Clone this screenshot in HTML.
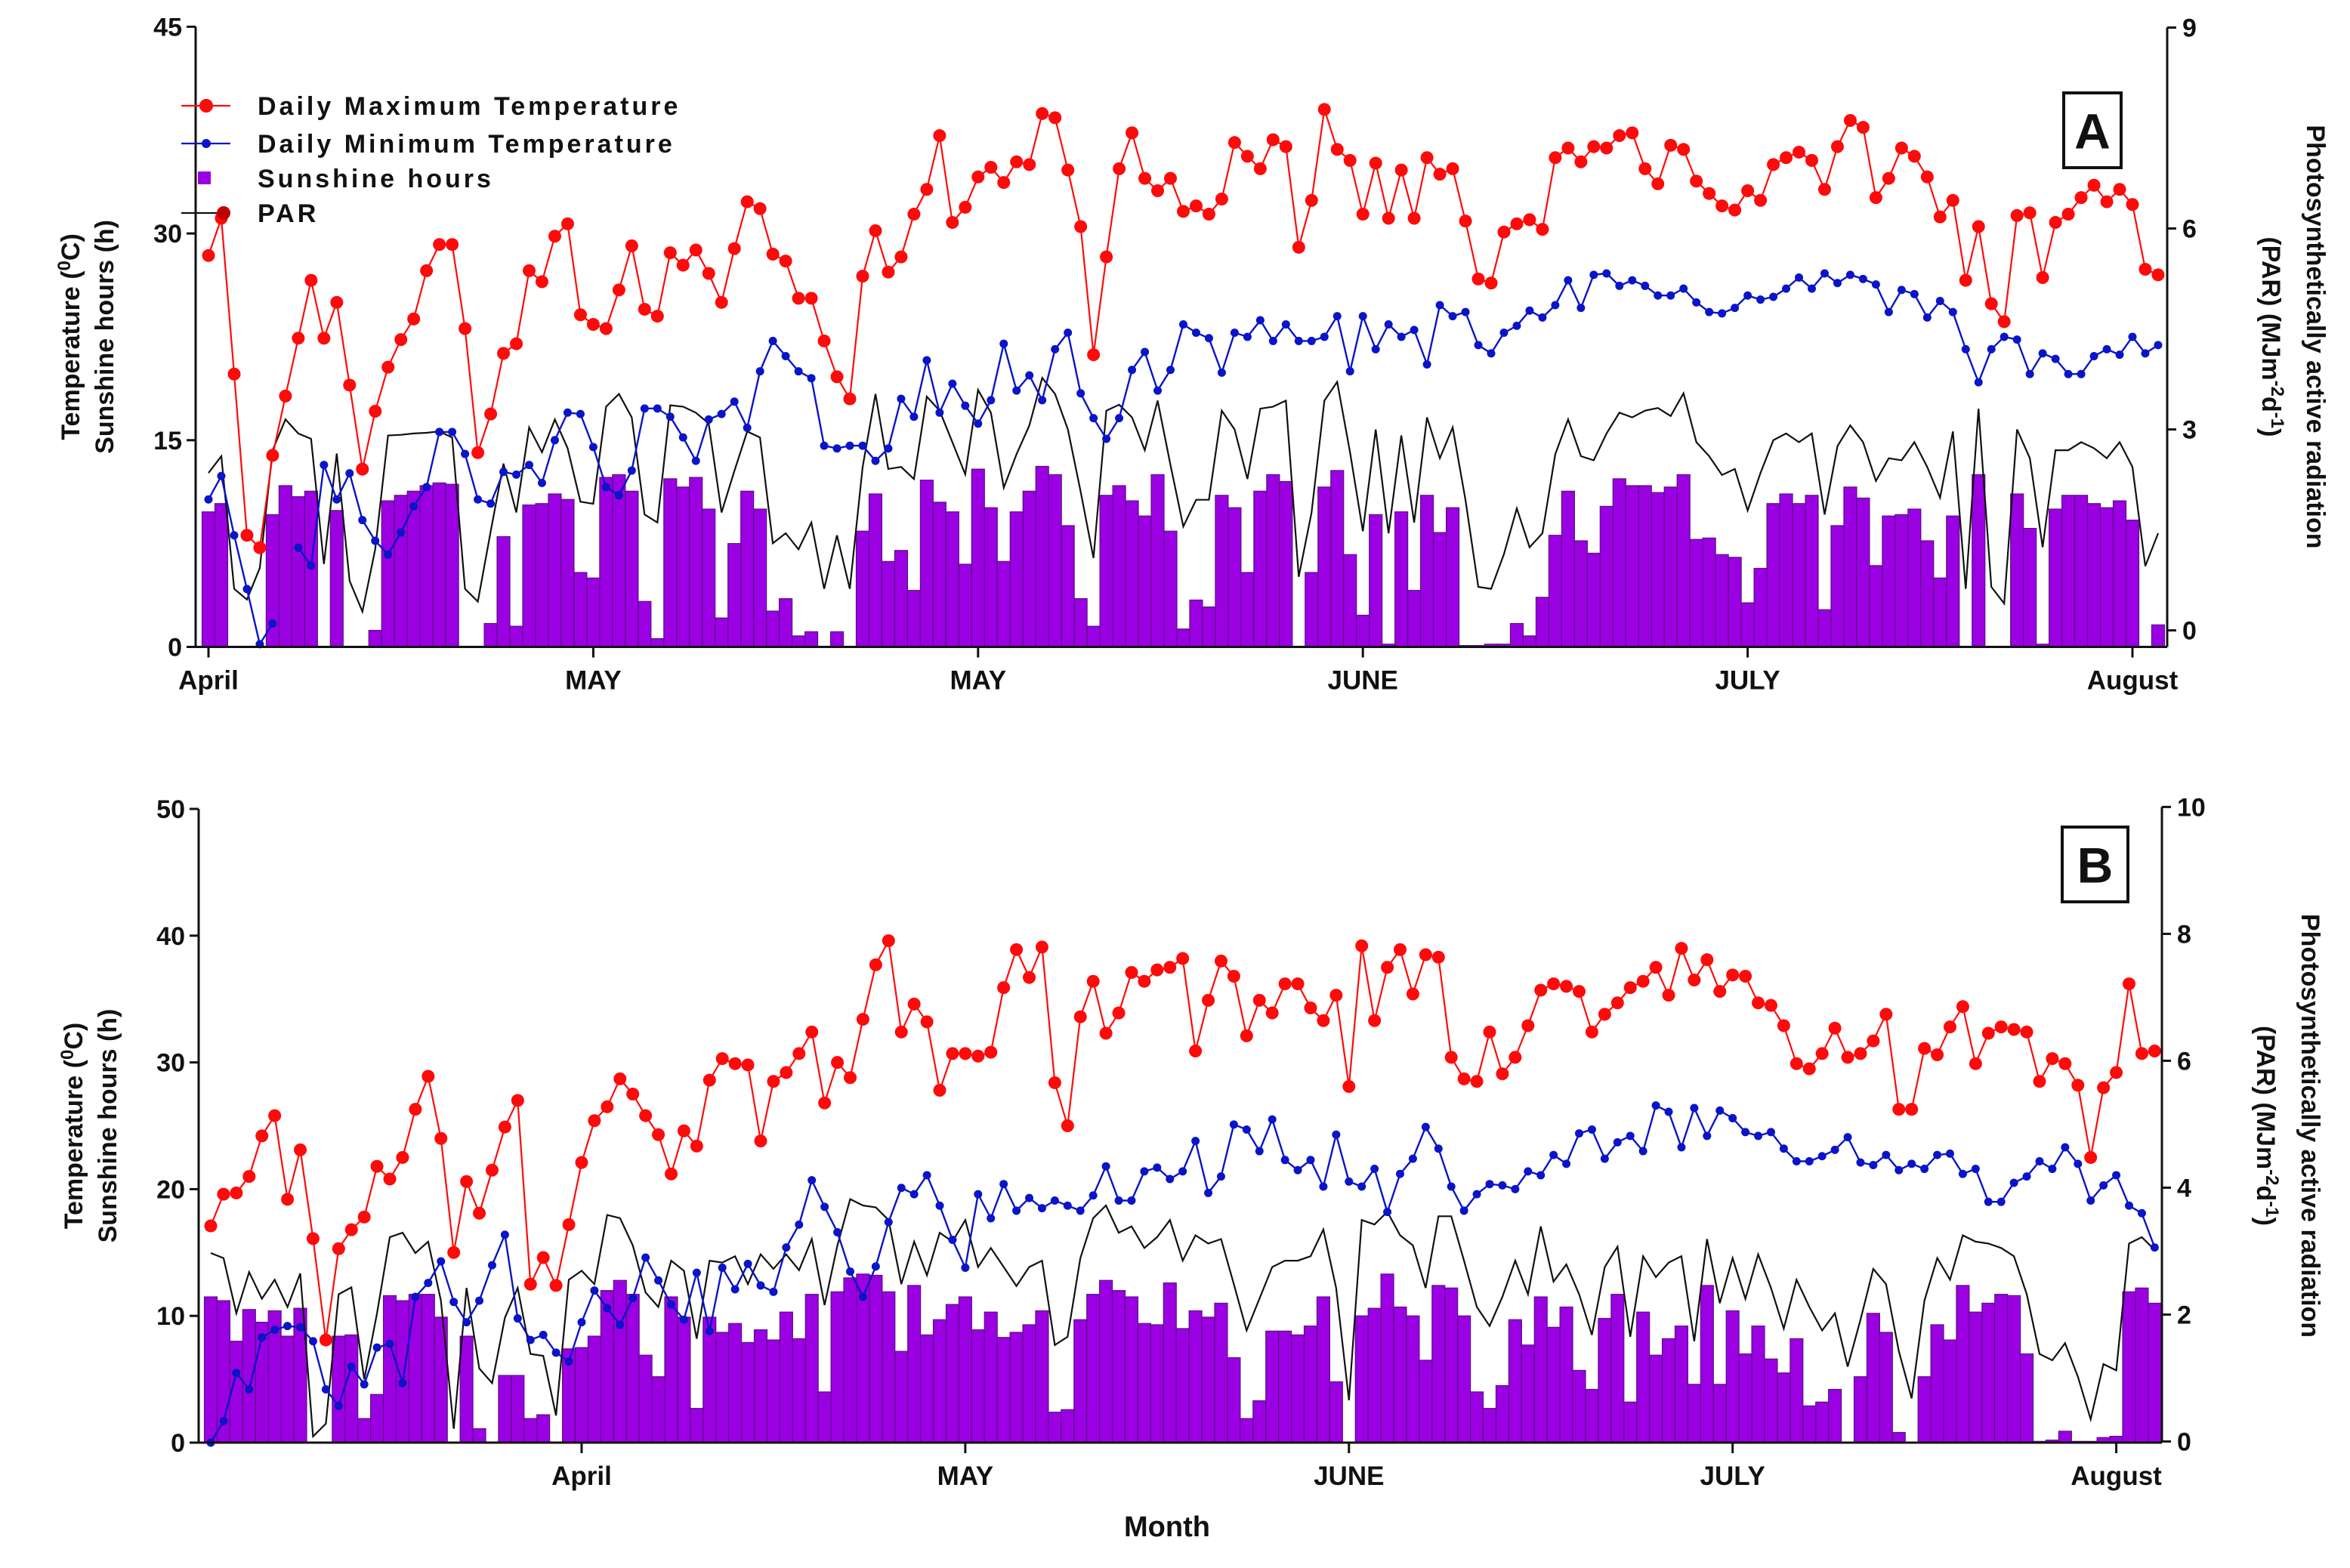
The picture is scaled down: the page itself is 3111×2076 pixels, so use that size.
<!DOCTYPE html>
<html><head><meta charset="utf-8"><style>
html,body{margin:0;padding:0;background:#fff;}
svg{display:block;font-family:"Liberation Sans",Arial,sans-serif;}
.t{font-weight:bold;fill:#111;}
</style></head><body>
<svg id="chart" width="3111" height="2076" viewBox="0 0 3111 2076">
<g id="panelA"></g>
<g id="panelB"></g>
<text class="t" x="1545" y="2034" font-size="38" text-anchor="middle">Month</text>
</svg>
<script>
const A_max=[28.4,31.1,19.8,8.1,7.2,13.9,18.2,22.4,26.6,22.4,25.0,19.0,12.9,17.1,20.3,22.3,23.8,27.3,29.2,29.2,23.1,14.1,16.9,21.3,22.0,27.3,26.5,29.8,30.7,24.1,23.4,23.1,25.9,29.1,24.5,24.0,28.6,27.7,28.8,27.1,25.0,28.9,32.3,31.8,28.5,28.0,25.3,25.3,22.2,19.6,18.0,26.9,
30.2,27.2,28.3,31.4,33.2,37.1,30.8,31.9,34.1,34.8,33.7,35.2,35.0,38.7,38.4,34.6,30.5,21.2,28.3,34.7,37.3,34.0,33.1,34.0,31.6,32.0,31.4,32.5,36.6,35.6,34.7,36.8,36.3,29.0,32.4,39.0,36.1,35.3,31.4,35.1,31.1,34.6,31.1,35.5,34.3,34.7,30.9,26.7,26.4,30.1,30.7,31.0,
30.3,35.5,36.2,35.2,36.3,36.2,37.1,37.3,34.7,33.6,36.4,36.1,33.8,32.9,32.0,31.7,33.1,32.4,35.0,35.5,35.9,35.3,33.2,36.3,38.2,37.7,32.6,34.0,36.2,35.6,34.1,31.2,32.4,26.6,30.5,24.9,23.6,31.3,31.5,26.8,30.8,31.4,32.6,33.5,32.3,33.2,32.1,27.4,27.0];
const A_min=[10.7,12.4,8.1,4.2,0.2,1.7,null,7.2,5.9,13.2,10.7,12.6,9.2,7.7,6.7,8.3,10.2,11.6,15.6,15.6,14.0,10.7,10.4,12.7,12.5,13.2,11.9,15.0,17.0,16.9,14.5,11.6,11.0,12.8,17.3,17.3,16.7,15.2,13.5,16.5,16.9,17.8,15.9,20.0,22.2,21.1,20.0,19.5,14.6,14.4,14.6,14.6,
13.5,14.4,18.0,16.7,20.8,17.0,19.1,17.5,16.2,17.9,22.0,18.6,19.7,17.9,21.6,22.8,18.4,16.6,15.1,16.6,20.1,21.4,18.6,20.1,23.4,22.8,22.4,19.9,22.8,22.5,23.7,22.2,23.4,22.2,22.2,22.5,24.0,20.0,24.0,21.6,23.4,22.5,23.0,20.5,24.8,24.0,24.3,21.9,21.3,22.8,23.3,24.4,
23.9,24.8,26.6,24.6,27.0,27.1,26.2,26.6,26.2,25.5,25.5,26.0,25.0,24.3,24.2,24.6,25.5,25.2,25.4,26.0,26.8,26.0,27.1,26.4,27.0,26.7,26.3,24.3,25.9,25.6,23.9,25.1,24.3,21.6,19.2,21.6,22.5,22.3,19.8,21.3,20.9,19.8,19.8,21.1,21.6,21.2,22.5,21.3,21.9];
const A_sun=[9.8,10.4,0,0,0,9.6,11.7,10.9,11.3,0,9.9,0,0,1.2,10.6,11.0,11.3,11.7,11.9,11.8,0,0,1.7,8.0,1.5,10.3,10.4,11.1,10.7,5.4,5.0,12.3,12.5,11.3,3.3,0.6,12.2,11.6,12.3,10.0,2.1,7.5,11.3,10.0,2.6,3.5,0.8,1.1,0,1.1,0,8.4,
11.1,6.2,7.0,4.1,12.1,10.5,9.8,6.0,12.9,10.1,6.2,9.8,11.3,13.1,12.5,8.8,3.5,1.5,11.0,11.7,10.6,9.5,12.5,8.4,1.3,3.4,2.9,11.0,10.1,5.4,11.3,12.5,12.0,0,5.4,11.6,12.8,6.7,2.3,9.6,0.2,9.8,4.1,11.0,8.3,10.1,0.1,0.1,0.2,0.2,1.7,0.8,
3.6,8.1,11.3,7.7,6.8,10.2,12.2,11.7,11.7,11.2,11.6,12.5,7.8,7.9,6.7,6.5,3.2,5.7,10.4,11.1,10.4,11.0,2.7,8.8,11.6,10.8,5.9,9.5,9.6,10.0,7.7,5.0,9.5,0,12.5,0,0,11.1,8.6,0.2,10.0,11.0,11.0,10.4,10.1,10.6,9.2,0,1.6];
const A_par=[2.35,2.6,0.62,0.46,0.93,2.69,3.15,2.94,2.86,0.99,2.64,0.74,0.28,1.21,2.91,2.92,2.94,2.95,2.97,2.88,0.62,0.43,1.48,2.49,1.76,3.03,2.66,3.15,2.72,1.92,1.89,3.34,3.53,3.18,1.73,1.61,3.36,3.34,3.25,3.09,1.76,2.38,2.97,2.88,1.30,1.45,1.21,1.61,0.62,1.42,0.62,2.44,
3.53,2.41,2.44,2.26,3.49,3.28,2.81,2.33,3.59,3.25,2.13,2.63,3.06,3.77,3.53,3.00,2.07,1.08,3.28,3.37,3.18,2.69,3.43,2.47,1.55,1.95,1.95,3.28,3.00,2.26,3.31,3.34,3.43,0.80,1.76,3.43,3.71,2.66,1.48,3.00,1.45,2.91,1.61,3.18,2.57,3.03,1.95,0.65,0.62,1.14,1.82,1.24,
1.45,2.63,3.15,2.60,2.54,2.94,3.25,3.18,3.28,3.32,3.20,3.54,2.81,2.60,2.32,2.41,1.79,2.35,2.84,2.94,2.81,2.94,1.73,2.75,3.06,2.81,2.23,2.57,2.54,2.81,2.44,1.98,2.97,0.62,3.31,0.65,0.40,3.00,2.57,1.24,2.69,2.69,2.81,2.72,2.57,2.81,2.44,0.96,1.45];
const B_max=[17.1,19.6,19.7,21.0,24.2,25.8,19.2,23.1,16.1,8.1,15.3,16.8,17.8,21.8,20.8,22.5,26.3,28.9,24.0,15.0,20.6,18.1,21.5,24.9,27.0,12.5,14.6,12.4,17.2,22.1,25.4,26.5,28.7,27.5,25.8,24.3,21.2,24.6,23.4,28.6,30.3,29.9,29.8,23.8,28.5,29.2,30.7,32.4,26.8,30.0,28.8,33.4,
37.7,39.6,32.4,34.6,33.2,27.8,30.7,30.7,30.5,30.8,35.9,38.9,36.7,39.1,28.4,25.0,33.6,36.4,32.3,33.9,37.1,36.4,37.3,37.5,38.2,30.9,34.9,38.0,36.8,32.1,34.9,33.9,36.2,36.2,34.3,33.3,35.3,28.1,39.2,33.3,37.5,38.9,35.4,38.5,38.3,30.4,28.7,28.5,32.4,29.1,30.4,32.9,
35.7,36.2,36.0,35.6,32.4,33.8,34.7,35.9,36.4,37.5,35.3,39.0,36.5,38.1,35.6,36.9,36.8,34.7,34.5,32.9,29.9,29.5,30.7,32.7,30.4,30.7,31.7,33.8,26.3,26.3,31.1,30.6,32.8,34.4,29.9,32.3,32.8,32.6,32.4,28.5,30.3,29.9,28.2,22.5,28.0,29.2,36.2,30.7,30.9];
const B_min=[0.0,1.7,5.5,4.2,8.3,8.9,9.2,9.1,8.0,4.2,2.9,6.0,4.6,7.5,7.8,4.7,11.5,12.6,14.3,11.1,9.5,11.2,14.0,16.4,9.8,8.1,8.5,7.1,6.4,9.5,12.0,10.6,9.3,11.4,14.6,12.8,10.9,9.7,13.4,8.8,13.8,12.1,14.1,12.4,11.9,15.4,17.2,20.7,18.6,16.6,13.5,11.5,
13.9,17.4,20.1,19.6,21.1,18.7,16.0,13.8,19.6,17.7,20.4,18.3,19.3,18.5,19.1,18.7,18.3,19.5,21.8,19.1,19.1,21.4,21.7,20.8,21.4,23.8,19.7,21.0,25.1,24.7,23.0,25.5,22.3,21.5,22.3,20.2,24.3,20.6,20.2,21.6,18.2,21.2,22.4,24.9,23.2,20.2,18.3,19.6,20.4,20.3,20.0,21.4,
21.1,22.7,22.0,24.4,24.7,22.4,23.7,24.2,23.0,26.6,26.1,23.3,26.4,24.2,26.2,25.6,24.5,24.2,24.5,23.2,22.2,22.2,22.6,23.1,24.1,22.1,21.9,22.7,21.5,22.0,21.6,22.7,22.8,21.2,21.6,19.0,19.0,20.5,21.0,22.2,21.6,23.3,22.0,19.1,20.3,21.1,18.7,18.1,15.4];
const B_sun=[11.5,11.2,8.0,10.5,9.5,10.4,8.4,10.6,0,0,8.4,8.5,1.9,3.8,11.6,11.2,11.7,11.7,9.9,0,8.4,1.1,0,5.3,5.3,1.9,2.2,0,7.4,7.5,8.4,12.0,12.8,11.7,6.9,5.2,11.5,9.9,2.7,9.9,8.7,9.4,7.9,8.9,8.1,10.3,8.2,11.7,4.0,11.9,13.0,13.3,
13.2,11.9,7.2,12.4,8.5,9.7,10.9,11.5,8.9,10.3,8.3,8.7,9.3,10.4,2.4,2.6,9.7,11.7,12.8,12.0,11.5,9.4,9.3,12.6,9.0,10.4,9.9,11.0,6.7,1.9,3.3,8.8,8.8,8.5,9.2,11.5,4.8,0,10.0,10.6,13.3,10.7,10.0,6.5,12.4,12.2,10.0,4.0,2.7,4.5,9.7,7.7,
11.5,9.1,10.7,5.7,4.2,9.8,11.7,3.2,10.3,6.9,8.2,9.2,4.6,12.4,4.6,10.4,7.0,9.2,6.6,5.5,8.2,2.9,3.2,4.2,0,5.2,10.2,8.7,0.8,0,5.2,9.3,8.1,12.4,10.3,11.0,11.7,11.6,7.0,0.1,0.2,0.9,0.1,0.1,0.4,0.5,11.9,12.2,11.0];
const B_par=[2.97,2.89,2.02,2.67,2.25,2.55,2.12,2.65,0.08,0.28,2.32,2.43,0.98,2.02,3.22,3.29,2.97,3.15,2.22,0.2,2.42,1.15,0.92,1.95,2.42,1.38,1.35,0.41,2.55,2.69,2.48,3.57,3.52,3.09,2.35,2.12,2.85,2.69,1.62,2.85,2.82,2.92,2.48,2.95,2.72,2.95,2.70,3.19,2.15,3.09,3.82,3.72,
3.69,3.49,2.48,3.15,2.62,3.29,3.15,3.49,2.75,3.05,2.75,2.45,2.75,2.85,1.52,1.65,2.89,3.52,3.72,3.29,3.39,3.05,3.22,3.49,2.85,3.25,3.12,3.19,2.48,1.75,2.25,2.75,2.85,2.85,2.92,3.34,2.42,0.65,3.49,3.42,3.62,3.25,3.09,2.42,3.55,3.55,2.85,2.12,1.82,2.28,2.85,2.32,
3.39,2.52,2.79,2.32,1.68,2.75,3.07,1.65,2.92,2.59,2.82,2.92,1.58,3.19,2.18,2.89,2.25,2.95,2.42,1.78,2.55,2.12,1.75,2.02,1.18,1.92,2.72,2.48,1.42,0.68,2.22,2.89,2.55,3.25,3.15,3.12,3.05,2.92,2.32,1.38,1.28,1.55,1.02,0.35,1.22,1.12,3.12,3.22,3.02];
const A_leftTicks=[0,15,30,45];
const A_rightTicks=[0,3,6,9];
const B_leftTicks=[0,10,20,30,40,50];
const B_rightTicks=[0,2,4,6,8,10];
const A_monthDays=[0,30,60,90,120,150];
const A_monthLabels=["April","MAY","MAY","JUNE","JULY","August"];
const B_monthDays=[29,59,89,119,149];
const B_monthLabels=["April","MAY","JUNE","JULY","August"];

const NS="http://www.w3.org/2000/svg";
function mk(parent,tag,attrs,text){
  const e=document.createElementNS(NS,tag);
  for(const k in attrs) e.setAttribute(k,attrs[k]);
  if(text!==undefined) e.textContent=text;
  parent.appendChild(e); return e;
}
function drawPanel(g,cfg,maxT,minT,sun,par,lt,rt,mDays,mLabels,letter){
  const x=i=>cfg.x0+i*cfg.dx;
  const yT=v=>cfg.t0-v*(cfg.t0-cfg.tTop)/cfg.tMax;
  const yP=v=>cfg.p0-v*(cfg.p0-cfg.pTop)/cfg.pMax;
  const bars=mk(g,'g',{});
  
  
  sun.forEach((v,i)=>{
    if(v<=0) return;
    const r=mk(bars,'rect',{x:x(i)-cfg.dx/2,y:yT(v),width:cfg.dx,height:yT(0)-yT(v),fill:'#9b00e3',stroke:'#5b0d86','stroke-width':1.2});
    
    
  });
  let d='';par.forEach((v,i)=>{d+=(i?'L':'M')+x(i).toFixed(1)+','+yP(v).toFixed(1);});
  const pl=mk(g,'path',{d:d,fill:'none',stroke:'#111','stroke-width':2.2});
  
  
  function series(vals,color,r,sw,name){
    const sg=mk(g,'g',{});
    
    
    let dd='',pen=false;
    vals.forEach((v,i)=>{ if(v===null){pen=false;return;} dd+=(pen?'L':'M')+x(i).toFixed(1)+','+yT(v).toFixed(1); pen=true;});
    mk(sg,'path',{d:dd,fill:'none',stroke:color,'stroke-width':sw});
    vals.forEach((v,i)=>{ if(v===null) return;
      const c=mk(sg,'circle',{cx:x(i),cy:yT(v),r:r,fill:color});
      
      
    });
  }
  series(minT,'#0a14c8',5.5,2.4,'min-temp-series');
  series(maxT,'#ff0a0a',8.5,2.2,'max-temp-series');
  const ax=mk(g,'g',{stroke:'#111','stroke-width':3,fill:'none'});
  
  
  mk(ax,'line',{x1:cfg.L,y1:cfg.tTop,x2:cfg.L,y2:cfg.t0});
  mk(ax,'line',{x1:cfg.R,y1:cfg.pTop,x2:cfg.R,y2:cfg.t0});
  mk(ax,'line',{x1:cfg.L,y1:cfg.t0,x2:cfg.R,y2:cfg.t0});
  lt.forEach(v=>{
    mk(ax,'line',{x1:cfg.L-12,y1:yT(v),x2:cfg.L,y2:yT(v)});
    const t=mk(g,'text',{class:'t',x:cfg.L-18,y:yT(v)+12,'font-size':34,'text-anchor':'end'},String(v));
    
    
  });
  rt.forEach(v=>{
    mk(ax,'line',{x1:cfg.R,y1:yP(v),x2:cfg.R+12,y2:yP(v)});
    const t=mk(g,'text',{class:'t',x:cfg.R+20,y:yP(v)+12,'font-size':34},String(v));
    
    
  });
  mDays.forEach((dd,k)=>{
    mk(ax,'line',{x1:x(dd),y1:cfg.t0,x2:x(dd),y2:cfg.t0+14});
    const t=mk(g,'text',{class:'t',x:x(dd),y:cfg.t0+56,'font-size':35,'text-anchor':'middle'},mLabels[k]);
    
    
  });
  const bx=mk(g,'g',{});
  
  
  mk(bx,'rect',{x:cfg.box[0],y:cfg.box[1],width:cfg.box[2],height:cfg.box[3],fill:'#fff',stroke:'#111','stroke-width':4});
  mk(bx,'text',{class:'t',x:cfg.box[0]+cfg.box[2]/2,y:cfg.box[1]+cfg.box[3]/2+24,'font-size':66,'text-anchor':'middle'},letter);
  const cy=(cfg.tTop+cfg.t0)/2;
  const l1=mk(g,'text',{class:'t',x:0,y:0,'font-size':34,'text-anchor':'middle',transform:`translate(${cfg.L-154},${cy}) rotate(-90)`});
  l1.innerHTML='Temperature (<tspan font-size="24" dy="-12">0</tspan><tspan dy="12">C)</tspan>';
  
  
  const l2=mk(g,'text',{class:'t',x:0,y:0,'font-size':34,'text-anchor':'middle',transform:`translate(${cfg.L-109},${cy}) rotate(-90)`},'Sunshine hours (h)');
  
  
  const r1=mk(g,'text',{class:'t',x:0,y:0,'font-size':34,'text-anchor':'middle',transform:`translate(${cfg.R+185},${cy}) rotate(90)`},'Photosynthetically active radiation');
  
  
  const r2=mk(g,'text',{class:'t',x:0,y:0,'font-size':34,'text-anchor':'middle',transform:`translate(${cfg.R+126},${cy}) rotate(90)`});
  r2.innerHTML='(PAR) (MJm<tspan font-size="24" dy="-12">-2</tspan><tspan dy="12">d</tspan><tspan font-size="24" dy="-12">-1</tspan><tspan dy="12">)</tspan>';
  
  
}
const gA=document.getElementById('panelA'), gB=document.getElementById('panelB');
drawPanel(gA,{x0:276,dx:16.98,L:259,R:2869,t0:856.5,tTop:35.4,tMax:45,p0:834.6,pTop:36.5,pMax:9,box:[2732,123,76,99]},A_max,A_min,A_sun,A_par,A_leftTicks,A_rightTicks,A_monthDays,A_monthLabels,'A');
drawPanel(gB,{x0:279,dx:16.93,L:263,R:2862,t0:1910,tTop:1071,tMax:50,p0:1908.5,pTop:1068.4,pMax:10,box:[2730,1095,87,99]},B_max,B_min,B_sun,B_par,B_leftTicks,B_rightTicks,B_monthDays,B_monthLabels,'B');

const lg=mk(gA,'g',{});


const rows=[['Daily Maximum Temperature',140],['Daily Minimum Temperature',190],['Sunshine hours',236],['PAR',282]];
mk(lg,'line',{x1:240,y1:140,x2:305,y2:140,stroke:'#ff0a0a','stroke-width':2.2});
mk(lg,'circle',{cx:273,cy:140,r:9,fill:'#ff0a0a'});
mk(lg,'line',{x1:240,y1:190,x2:305,y2:190,stroke:'#0a14c8','stroke-width':2.2});
mk(lg,'circle',{cx:273,cy:190,r:6,fill:'#0a14c8'});
mk(lg,'rect',{x:262,y:227,width:17,height:17,fill:'#9b00e3'});
mk(lg,'line',{x1:240,y1:282,x2:305,y2:282,stroke:'#111','stroke-width':2.2});
mk(lg,'circle',{cx:296,cy:282,r:9,fill:'#c00000'});
rows.forEach(r=>{
  const t=mk(lg,'text',{class:'t',x:341,y:r[1]+12,'font-size':34,'letter-spacing':'4'},r[0]);
  
  
});
</script>
</body></html>
